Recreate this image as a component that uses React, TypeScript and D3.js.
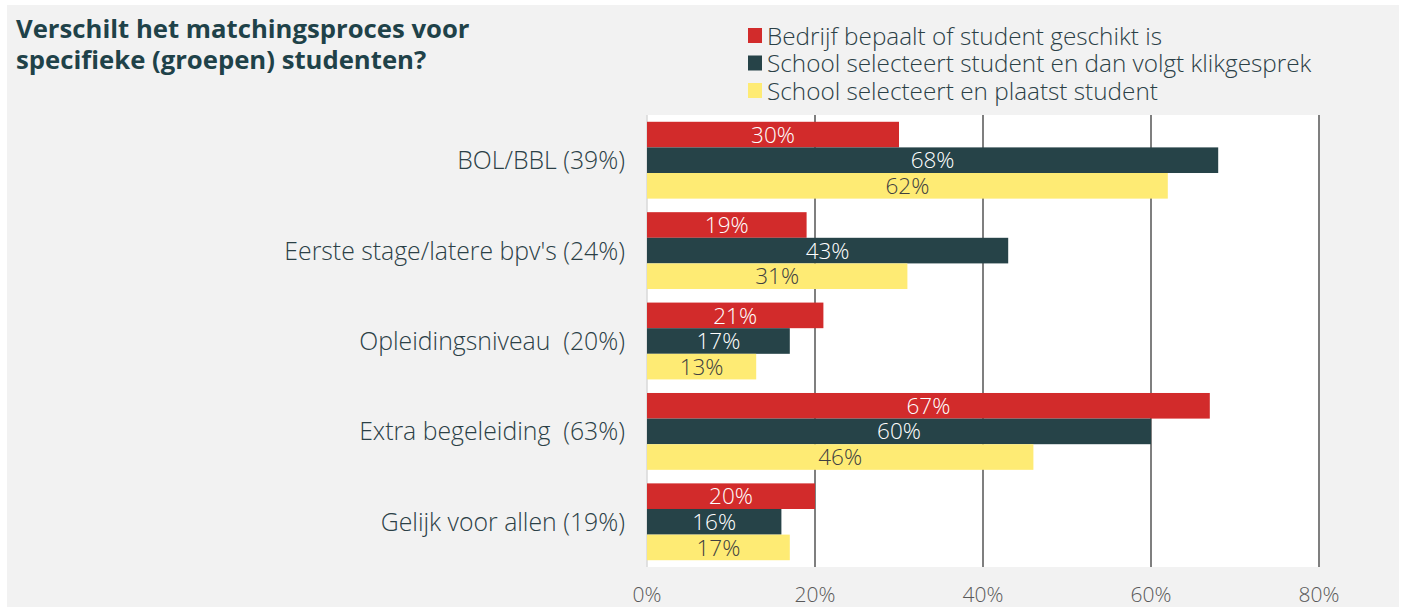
import React from "react";
import * as d3 from "d3";

const categories = [
  "BOL/BBL (39%)",
  "Eerste stage/latere bpv's (24%)",
  "Opleidingsniveau  (20%)",
  "Extra begeleiding  (63%)",
  "Gelijk voor allen (19%)",
];
const seriesNames = [
  "Bedrijf bepaalt of student geschikt is",
  "School selecteert student en dan volgt klikgesprek",
  "School selecteert en plaatst student",
];
const bedrijf = [30, 19, 21, 67, 20];
const klikgesprek = [68, 43, 17, 60, 16];
const plaatst = [62, 31, 13, 46, 17];
const ticks = [0, 20, 40, 60, 80];

const colors = ["#d22b2b", "#264348", "#feeb74"];
const labelColors = ["#ffffff", "#ffffff", "#404040"];
const font = "'Open Sans', Lato, sans-serif";

export default function App() {
  const width = 1405;
  const height = 607;
  const plot = { left: 647, right: 1319, top: 115, bottom: 567 };

  const x = d3.scaleLinear().domain([0, 80]).range([plot.left, plot.right]);
  const y = d3
    .scaleBand<string>()
    .domain(categories)
    .range([plot.top, plot.bottom])
    .paddingInner(0.15)
    .paddingOuter(0.075);
  const sub = d3
    .scaleBand<number>()
    .domain([0, 1, 2])
    .range([0, y.bandwidth()]);

  const series = [bedrijf, klikgesprek, plaatst];

  return (
    <svg
      width={width}
      height={height}
      style={{ position: "absolute", left: 0, top: 0 }}
      fontFamily={font}
    >
      <rect x={0} y={0} width={width} height={height} fill="#ffffff" />
      <rect x={7} y={5} width={1392} height={height - 5} fill="#f2f2f2" />

      {/* title */}
      <text fill="#1f4249" fontSize={25.7} fontWeight={700}>
        <tspan x={16} y={38}>Verschilt het matchingsproces voor</tspan>
        <tspan x={16} y={69}>specifieke (groepen) studenten?</tspan>
      </text>

      {/* legend */}
      {seriesNames.map((name, i) => (
        <g key={name} transform={`translate(748, ${28 + i * 27.5})`}>
          <rect x={0} y={0} width={14} height={15} fill={colors[i]} />
          <text x={19} y={8} dy="0.35em" fontSize={24.3} fontWeight={300} fill="#2b4046">
            {name}
          </text>
        </g>
      ))}

      {/* plot background */}
      <rect
        x={plot.left}
        y={plot.top}
        width={plot.right - plot.left}
        height={plot.bottom - plot.top}
        fill="#ffffff"
      />

      {/* gridlines */}
      {ticks.map((t) =>
        t === 0 ? (
          <line key={t} x1={x(t)} x2={x(t)} y1={plot.top} y2={plot.bottom} stroke="#d9d9d9" strokeWidth={1.5} />
        ) : (
          <line key={t} x1={x(t)} x2={x(t)} y1={plot.top} y2={plot.bottom} stroke="#7f7f7f" strokeWidth={2} />
        )
      )}

      {/* bars */}
      {categories.map((cat, ci) => (
        <g key={cat} transform={`translate(0, ${y(cat)})`}>
          {series.map((vals, si) => {
            const by = sub(si) as number;
            const bw = x(vals[ci]) - x(0);
            return (
              <g key={si}>
                <rect x={x(0)} y={by} width={bw} height={sub.bandwidth()} fill={colors[si]} />
                <text
                  x={x(0) + bw / 2}
                  y={by + sub.bandwidth() / 2}
                  dy="0.36em"
                  textAnchor="middle"
                  fontSize={22.5}
                  fontWeight={300}
                  fill={labelColors[si]}
                >
                  {vals[ci]}%
                </text>
              </g>
            );
          })}
          <text
            x={625}
            y={y.bandwidth() / 2}
            dy="0.36em"
            textAnchor="end"
            fontSize={24.8}
            fontWeight={300}
            fill="#2b4046"
            style={{ whiteSpace: "pre" }}
          >
            {cat}
          </text>
        </g>
      ))}

      {/* x axis labels */}
      {ticks.map((t) => (
        <text
          key={t}
          x={x(t)}
          y={594}
          dy="0.36em"
          textAnchor="middle"
          fontSize={21}
          fontWeight={300}
          fill="#595959"
        >
          {t}%
        </text>
      ))}
    </svg>
  );
}
